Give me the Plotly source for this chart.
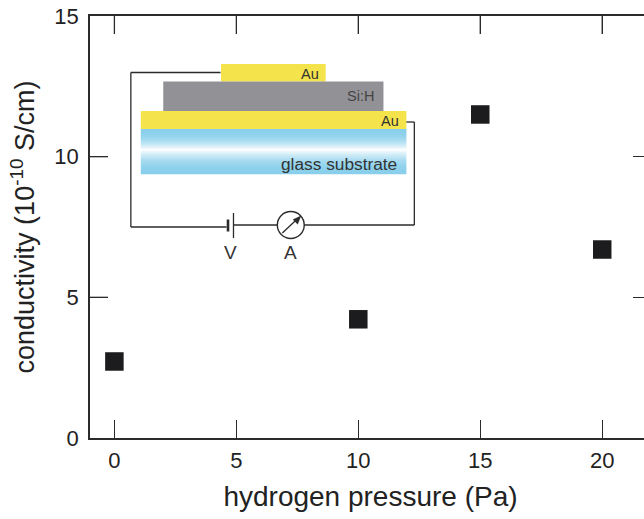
import plotly.graph_objects as go

pressure = [0, 10, 15, 20]
conductivity = [2.72, 4.22, 11.5, 6.7]
x_ticks = [0, 5, 10, 15, 20]
y_ticks = [0, 5, 10, 15]

W, H = 653, 519
L, R, T, B = 90, 653, 16, 438
TICK = 18
FONT = "Liberation Sans"
INK = "#2b2b2b"

def px(x): return (x - L) / (R - L)
def py(y): return (B - y) / (B - T)

shapes = []
def rect(x0, y0, x1, y1, color):
    shapes.append(dict(type="rect", xref="paper", yref="paper", x0=px(x0), x1=px(x1),
                       y0=py(y0), y1=py(y1), fillcolor=color, line_width=0, layer="above"))
def line(x0, y0, x1, y1, w=1.3, color=INK):
    shapes.append(dict(type="line", xref="paper", yref="paper", x0=px(x0), x1=px(x1),
                       y0=py(y0), y1=py(y1), line=dict(color=color, width=w), layer="above"))

# inward ticks on the top and left edges, placed by the axes' own scales
for v in x_ticks:
    shapes.append(dict(type="line", xref="x", yref="paper", x0=v, x1=v, y0=1, y1=py(T + TICK),
                       line=dict(color=INK, width=1.3), layer="above"))
for v in y_ticks[1:-1]:
    shapes.append(dict(type="line", xref="paper", yref="y", x0=0, x1=px(L + TICK), y0=v, y1=v,
                       line=dict(color=INK, width=1.3), layer="above"))

# glass gradient
blue = (137, 207, 235)
y_start, y_mid, y_end = 129.0, 150.0, 174.0
steps = 45
for i in range(steps):
    y0 = y_start + (y_end - y_start) * i / steps
    y1 = y_start + (y_end - y_start) * (i + 1) / steps + 0.3
    yc = (y0 + y1) / 2
    t = (yc - y_start) / (y_mid - y_start) if yc < y_mid else (y_end - yc) / (y_end - y_mid)
    t = min(max(t, 0), 1)
    c = tuple(round(b + (255 - b) * t ** 2.2) for b in blue)
    rect(141, y0, 407.5, y1, "rgb(%d,%d,%d)" % c)

rect(221.5, 64, 326.5, 81.5, "#f4e34a")
rect(163.5, 81.5, 384.5, 111, "#929196")
rect(141, 111, 407.5, 129, "#f4e34a")

# circuit
line(221, 72.5, 131, 72.5)
line(131, 72.5, 131, 227)
line(131, 227, 227, 227)
line(407.5, 122, 415.5, 122)
line(415.5, 122, 415.5, 225)
line(415.5, 225, 305, 225)
line(234, 225, 278, 225)
line(228.5, 219.5, 228.5, 231.5, 2.6)
line(234, 213, 234, 238, 1.3)
shapes.append(dict(type="circle", xref="paper", yref="paper", x0=px(278), x1=px(305),
                   y0=py(238.5), y1=py(211.5), line=dict(color=INK, width=1.4), layer="above"))
# ammeter needle with head
line(283, 233, 298, 219, 1.3)
shapes.append(dict(type="path", xref="paper", yref="paper", layer="above", fillcolor=INK, line_width=0,
                   path="M %f %f L %f %f L %f %f Z" % (px(302), py(215.5), px(293.5), py(219.5),
                                                       px(298.5), py(224.5))))

annots = []
def text(x, y, s, size, color="#333333", anchor="center"):
    annots.append(dict(xref="paper", yref="paper", x=px(x), y=py(y), text=s, showarrow=False,
                       font=dict(family=FONT, size=size, color=color), xanchor=anchor, yanchor="middle"))
text(322, 73.5, "Au", 14.5, anchor="right")
text(377, 95.5, "Si:H", 14.5, "#444444", anchor="right")
text(402, 121, "Au", 14.5, anchor="right")
text(400.5, 163.5, "glass substrate", 17.3, "#333333", anchor="right")
text(231, 252, "V", 19)
text(291, 252, "A", 19)

fig = go.Figure(go.Scatter(x=pressure, y=conductivity, mode="markers",
                           marker=dict(symbol="square", size=18.5, color="#1c1c1e"),
                           cliponaxis=False))
axis_common = dict(showgrid=False, zeroline=False, showline=True, linecolor=INK, linewidth=1.5,
                   mirror="allticks", ticks="inside", tickcolor=INK, tickwidth=1.3, ticklen=TICK,
                   tickfont=dict(family=FONT, size=22, color="#222222"))
fig.update_xaxes(range=[-1, 22], tickvals=x_ticks, ticklabelstandoff=2,
                 title=dict(text="hydrogen pressure (Pa)", standoff=14,
                            font=dict(family=FONT, size=28, color="#222222")), **axis_common)
fig.update_yaxes(range=[0, 15], tickvals=y_ticks, ticklabelstandoff=5,
                 title=dict(text="conductivity (10<sup>-10</sup> S/cm)", standoff=12,
                            font=dict(family=FONT, size=27, color="#222222")), **axis_common)
fig.update_layout(width=W, height=H, margin=dict(l=L, r=W - R, t=T, b=H - B), showlegend=False,
                  paper_bgcolor="white", plot_bgcolor="white", shapes=shapes, annotations=annots)
fig.write_html("out.html", config=dict(displayModeBar=False),
               post_script="document.body.style.margin='0';document.documentElement.style.overflow='hidden';")
